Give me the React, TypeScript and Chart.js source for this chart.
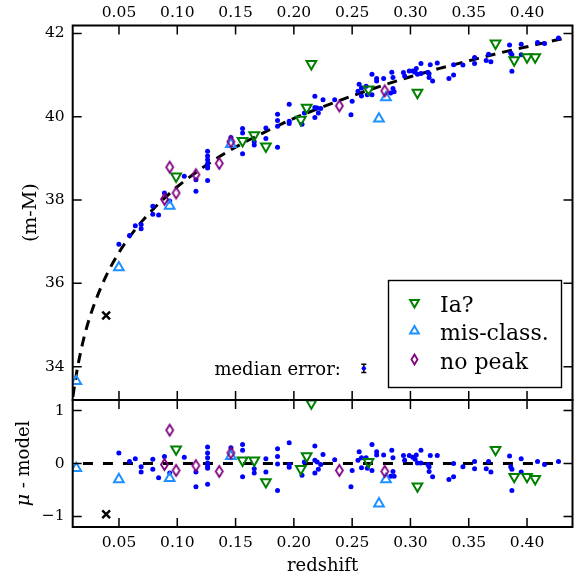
import React, { useEffect, useRef } from "react";
import { Chart, registerables } from "chart.js";

Chart.register(...registerables);

// ---------------- data ----------------
const xTicks = [0.05, 0.1, 0.15, 0.2, 0.25, 0.3, 0.35, 0.4];
const yTicksTop = [34, 36, 38, 40, 42];
const yTicksBottom = [-1, 0, 1];

const modelZ = [0.0105, 0.012, 0.015, 0.02, 0.025, 0.03, 0.04, 0.05, 0.06, 0.07, 0.08, 0.09, 0.1, 0.125, 0.15, 0.175, 0.2, 0.225, 0.25, 0.275, 0.3, 0.325, 0.35, 0.375, 0.4, 0.425, 0.43];
const modelMu = [33.28, 33.57, 34.06, 34.7, 35.19, 35.59, 36.24, 36.74, 37.15, 37.5, 37.8, 38.07, 38.32, 38.84, 39.27, 39.63, 39.96, 40.24, 40.5, 40.74, 40.96, 41.16, 41.34, 41.52, 41.68, 41.84, 41.87];

const zeroZ = [0.0105, 0.43];
const zeroRes = [0, 0];

const blueZ = [
  0.0499, 0.059, 0.064, 0.069, 0.069, 0.079, 0.079, 0.084, 0.089, 0.0935,
  0.106, 0.116, 0.116, 0.126, 0.126, 0.126, 0.126, 0.126, 0.126, 0.126,
  0.146, 0.156, 0.156, 0.156, 0.166, 0.166, 0.176, 0.176, 0.186, 0.186,
  0.186, 0.186, 0.196, 0.196, 0.196, 0.209, 0.207, 0.218, 0.218, 0.22,
  0.225, 0.223, 0.221, 0.218, 0.235, 0.25, 0.249, 0.256, 0.255, 0.258,
  0.262, 0.258, 0.263, 0.267, 0.271, 0.271, 0.267, 0.277, 0.284, 0.285,
  0.285, 0.283, 0.286, 0.294, 0.295, 0.299, 0.302, 0.305, 0.309, 0.304,
  0.306, 0.309, 0.315, 0.316, 0.316, 0.319, 0.317, 0.323, 0.333, 0.337,
  0.337, 0.345, 0.355, 0.355, 0.365, 0.367, 0.369, 0.385, 0.386, 0.387,
  0.387, 0.395, 0.395, 0.409, 0.415, 0.427,
];
const blueRes = [
  0.2, 0.04, 0.09, -0.06, -0.16, 0.08, -0.11, -0.27, 0.13, -0.18,
  0.12, -0.16, -0.44, 0.31, 0.2, 0.11, 0.01, -0.05, -0.09, -0.39,
  0.3, 0.36, 0.25, -0.25, -0.1, -0.18, 0.09, -0.16, 0.28, 0.13,
  -0.01, -0.51, 0.39, -0.02, -0.07, 0.03, -0.22, 0.33, 0.06, 0.03,
  0.17, -0.02, -0.11, -0.18, 0.07, -0.13, -0.44, 0.22, 0.06, 0.11,
  0.11, -0.08, -0.09, 0.36, 0.22, 0.16, -0.13, 0.16, 0.25, 0.11,
  -0.15, -0.24, -0.24, 0.15, 0.06, 0.15, 0.12, 0.16, 0.25, 0.08,
  0.01, 0.01, -0.02, -0.06, -0.15, -0.25, 0.15, 0.15, -0.3, -0.25,
  0.0, -0.06, 0.04, -0.1, -0.1, 0.04, -0.16, 0.14, -0.06, -0.11,
  -0.51, 0.09, -0.16, 0.04, -0.02, 0.04,
];
const blueMu = [
  36.94, 37.15, 37.38, 37.41, 37.31, 37.85, 37.66, 37.64, 38.17, 37.98,
  38.57, 38.49, 38.21, 39.17, 39.06, 38.97, 38.87, 38.81, 38.77, 38.47,
  39.5, 39.72, 39.61, 39.11, 39.4, 39.32, 39.73, 39.48, 40.06, 39.91,
  39.77, 39.27, 40.3, 39.89, 39.84, 40.09, 39.82, 40.49, 40.22, 40.21,
  40.41, 40.2, 40.09, 39.98, 40.41, 40.37, 40.05, 40.78, 40.61, 40.69,
  40.73, 40.5, 40.53, 41.02, 40.92, 40.86, 40.53, 40.92, 41.07, 40.94,
  40.68, 40.57, 40.6, 41.06, 40.98, 41.1, 41.1, 41.16, 41.28, 41.07,
  41.02, 41.04, 41.06, 41.03, 40.94, 40.86, 41.25, 41.29, 40.92, 41.0,
  41.25, 41.24, 41.42, 41.28, 41.35, 41.5, 41.32, 41.72, 41.53, 41.49,
  41.09, 41.74, 41.49, 41.78, 41.76, 41.89,
];

const iaZ = [0.099, 0.156, 0.166, 0.176, 0.206, 0.211, 0.215, 0.264, 0.306, 0.373, 0.389, 0.4, 0.407];
const iaRes = [0.27, 0.06, 0.06, -0.35, -0.1, 0.14, 1.14, 0.03, -0.43, 0.26, -0.25, -0.25, -0.29];
const iaMu = [38.57, 39.42, 39.56, 39.29, 39.93, 40.22, 41.27, 40.66, 40.58, 41.76, 41.36, 41.43, 41.43];

const misZ = [0.0134, 0.0499, 0.0935, 0.146, 0.273, 0.279];
const misRes = [-0.09, -0.3, -0.28, 0.14, -0.76, -0.3];
const misMu = [33.65, 36.38, 37.86, 39.34, 39.95, 40.46];

const npZ = [0.089, 0.0935, 0.099, 0.116, 0.136, 0.146, 0.239, 0.278];
const npRes = [-0.02, 0.63, -0.13, -0.04, -0.15, 0.2, -0.13, -0.15];
const npMu = [38.02, 38.79, 38.17, 38.61, 38.88, 39.4, 40.26, 40.62];

const crossZ = [0.039];
const crossMu = [35.23];
const crossRes = [-0.96];

const medZ = [0.26];
const medMu = [33.96];
const medErr = [0.1];

const legendLabels = ["Ia?", "mis-class.", "no peak"];

// ---------------- styles ----------------
const FONT = "'DejaVu Serif', 'Liberation Serif', serif";
const X_MIN = 0.0103;
const X_MAX = 0.439;
const BLUE = "#0000ff";
const GREEN = "#008000";
const DODGER = "#1e90ff";
const PURPLE = "#800080";
const TL = 9;

const pts = (xs: number[], ys: number[]) => xs.map((x, i) => ({ x, y: ys[i] }));

function makeDiamond(w: number, h: number, color: string, lw: number) {
  const c = document.createElement("canvas");
  c.width = Math.ceil(w + lw * 2 + 2);
  c.height = Math.ceil(h + lw * 2 + 2);
  const g = c.getContext("2d")!;
  g.strokeStyle = color;
  g.lineWidth = lw;
  g.lineJoin = "miter";
  const cx = c.width / 2, cy = c.height / 2;
  g.beginPath();
  g.moveTo(cx, cy - h / 2);
  g.lineTo(cx + w / 2, cy);
  g.lineTo(cx, cy + h / 2);
  g.lineTo(cx - w / 2, cy);
  g.closePath();
  g.stroke();
  return c;
}

const frameTicks = {
  id: "frameTicks",
  afterDatasetsDraw(chart: any) {
    const { ctx, chartArea: a, scales } = chart;
    const xs = scales.x, ys = scales.y;
    ctx.save();
    ctx.strokeStyle = "#000";
    ctx.lineWidth = 1.5;
    ctx.beginPath();
    for (const t of xs.ticks) {
      const p = xs.getPixelForValue(t.value);
      ctx.moveTo(p, a.top); ctx.lineTo(p, a.top + TL);
      ctx.moveTo(p, a.bottom); ctx.lineTo(p, a.bottom - TL);
    }
    for (const t of ys.ticks) {
      const p = ys.getPixelForValue(t.value);
      ctx.moveTo(a.left, p); ctx.lineTo(a.left + TL, p);
      ctx.moveTo(a.right, p); ctx.lineTo(a.right - TL, p);
    }
    ctx.stroke();
    ctx.lineWidth = 2;
    ctx.strokeRect(a.left, a.top, a.right - a.left, a.bottom - a.top);
    ctx.restore();
  },
};

function drawMarker(ctx: CanvasRenderingContext2D, kind: string, x: number, y: number) {
  ctx.save();
  ctx.lineWidth = 2;
  ctx.beginPath();
  if (kind === "down") {
    const r = 5;
    ctx.strokeStyle = GREEN;
    ctx.moveTo(x - r * 0.866, y - r / 2);
    ctx.lineTo(x + r * 0.866, y - r / 2);
    ctx.lineTo(x, y + r);
  } else if (kind === "up") {
    const r = 5;
    ctx.strokeStyle = DODGER;
    ctx.moveTo(x - r * 0.866, y + r / 2);
    ctx.lineTo(x + r * 0.866, y + r / 2);
    ctx.lineTo(x, y - r);
  } else {
    ctx.strokeStyle = PURPLE;
    ctx.lineWidth = 1.8;
    ctx.moveTo(x, y - 5);
    ctx.lineTo(x + 3, y);
    ctx.lineTo(x, y + 5);
    ctx.lineTo(x - 3, y);
  }
  ctx.closePath();
  ctx.stroke();
  ctx.restore();
}

const topExtras = {
  id: "topExtras",
  afterDraw(chart: any) {
    const { ctx, chartArea: a, scales } = chart;
    const xs = scales.x, ys = scales.y;
    ctx.save();
    ctx.fillStyle = "#000";
    // y title
    ctx.save();
    ctx.font = `19px ${FONT}`;
    ctx.translate(31, (a.top + a.bottom) / 2);
    ctx.rotate(-Math.PI / 2);
    ctx.textAlign = "center";
    ctx.textBaseline = "middle";
    ctx.fillText("(m-M)", 0, 0);
    ctx.restore();
    // median error bar
    const px = xs.getPixelForValue(medZ[0]);
    const py = ys.getPixelForValue(medMu[0]);
    const y1 = ys.getPixelForValue(medMu[0] + medErr[0]);
    const y2 = ys.getPixelForValue(medMu[0] - medErr[0]);
    ctx.strokeStyle = "#000";
    ctx.lineWidth = 1.5;
    ctx.beginPath();
    ctx.moveTo(px, y1); ctx.lineTo(px, y2);
    ctx.moveTo(px - 2.5, y1); ctx.lineTo(px + 2.5, y1);
    ctx.moveTo(px - 2.5, y2); ctx.lineTo(px + 2.5, y2);
    ctx.stroke();
    ctx.fillStyle = BLUE;
    ctx.beginPath();
    ctx.arc(px, py, 2.2, 0, Math.PI * 2);
    ctx.fill();
    ctx.fillStyle = "#000";
    ctx.font = `18px ${FONT}`;
    ctx.textAlign = "right";
    ctx.textBaseline = "alphabetic";
    ctx.fillText("median error:", px - 23, py + 7);
    // legend
    const L = 388.5, T = 280.5, W = 173, H = 107;
    ctx.fillStyle = "#fff";
    ctx.fillRect(L, T, W, H);
    ctx.strokeStyle = "#000";
    ctx.lineWidth = 1.4;
    ctx.strokeRect(L, T, W, H);
    const kinds = ["down", "up", "diamond"];
    ctx.font = `22px ${FONT}`;
    ctx.textAlign = "left";
    ctx.fillStyle = "#000";
    for (let i = 0; i < legendLabels.length; i++) {
      const base = T + 31 + i * 28.5;
      drawMarker(ctx, kinds[i], L + 26, base - 9);
      ctx.fillStyle = "#000";
      ctx.fillText(legendLabels[i], L + 51.5, base);
    }
    ctx.restore();
  },
};

const bottomExtras = {
  id: "bottomExtras",
  afterDraw(chart: any) {
    const { ctx, chartArea: a } = chart;
    ctx.save();
    ctx.fillStyle = "#000";
    // y title with italic mu
    ctx.save();
    ctx.translate(24, (a.top + a.bottom) / 2);
    ctx.rotate(-Math.PI / 2);
    ctx.textBaseline = "middle";
    ctx.textAlign = "left";
    ctx.font = `italic 19px ${FONT}`;
    const w1 = ctx.measureText("\u03bc").width;
    ctx.font = `18px ${FONT}`;
    const w2 = ctx.measureText(" - model").width;
    const start = -(w1 + w2) / 2;
    ctx.font = `italic 19px ${FONT}`;
    ctx.fillText("\u03bc", start, 0);
    ctx.font = `18px ${FONT}`;
    ctx.fillText(" - model", start + w1, 0);
    ctx.restore();
    // x title
    ctx.font = `18px ${FONT}`;
    ctx.textAlign = "center";
    ctx.textBaseline = "alphabetic";
    ctx.fillText("redshift", (a.left + a.right) / 2, chart.height - 5);
    ctx.restore();
  },
};

const tickFont = { family: FONT, size: 15.5 };

function zeroPad(s: any) {
  s.paddingTop = 0;
  s.paddingBottom = 0;
  s.paddingLeft = 0;
  s.paddingRight = 0;
}

function xScale(position: string, height: number, padding: number) {
  return {
    type: "linear",
    position,
    min: X_MIN,
    max: X_MAX,
    grid: { display: false, drawTicks: false },
    border: { display: false },
    afterBuildTicks: (s: any) => { s.ticks = xTicks.map((v) => ({ value: v })); },
    afterFit: (s: any) => { s.height = height; zeroPad(s); },
    ticks: {
      font: tickFont,
      color: "#000",
      padding,
      autoSkip: false,
      maxRotation: 0,
      callback: (v: any) => Number(v).toFixed(2),
    },
  };
}

function yScale(min: number, max: number, ticks: number[]) {
  return {
    type: "linear",
    position: "left",
    min,
    max,
    grid: { display: false, drawTicks: false },
    border: { display: false },
    afterBuildTicks: (s: any) => { s.ticks = ticks.map((v) => ({ value: v })); },
    afterFit: (s: any) => { s.width = 72.7; zeroPad(s); },
    ticks: {
      font: tickFont,
      color: "#000",
      padding: 8,
      autoSkip: false,
      callback: (v: any) => (Number(v) < 0 ? "\u2212" + Math.abs(Number(v)) : String(v)),
    },
  };
}

function markerSets(ys: { blue: number[]; ia: number[]; mis: number[]; np: number[]; cross: number[] }, diamond: HTMLCanvasElement) {
  return [
    {
      label: "no peak", data: pts(npZ, ys.np), order: 1, clip: 0,
      pointStyle: diamond, pointRadius: 6, borderColor: PURPLE, backgroundColor: "transparent",
    },
    {
      label: "mis-class.", data: pts(misZ, ys.mis), order: 2, clip: 0,
      pointStyle: "triangle", pointRadius: 5.6, pointBorderWidth: 2,
      borderColor: DODGER, backgroundColor: "rgba(0,0,0,0)",
    },
    {
      label: "Ia?", data: pts(iaZ, ys.ia), order: 3, clip: 0,
      pointStyle: "triangle", pointRotation: 180, pointRadius: 5.6, pointBorderWidth: 2,
      borderColor: GREEN, backgroundColor: "rgba(0,0,0,0)",
    },
    {
      label: "cross", data: pts(crossZ, ys.cross), order: 4, clip: 0,
      pointStyle: "crossRot", pointRadius: 5.5, pointBorderWidth: 2.4, borderColor: "#000",
    },
    {
      label: "SNe", data: pts(blueZ, ys.blue), order: 5, clip: 0,
      pointStyle: "circle", pointRadius: 2.5, pointBorderWidth: 0, backgroundColor: BLUE, borderColor: BLUE,
    },
  ];
}

export default function App() {
  const topRef = useRef<HTMLCanvasElement>(null);
  const botRef = useRef<HTMLCanvasElement>(null);

  useEffect(() => {
    const diamond = makeDiamond(7, 11, PURPLE, 1.8);
    const common = {
      responsive: false,
      animation: false,
      devicePixelRatio: 1,
      events: [],
      plugins: { legend: { display: false }, tooltip: { enabled: false }, title: { display: false } },
    };
    const top = new Chart(topRef.current!, {
      type: "scatter",
      data: {
        datasets: [
          {
            label: "model", data: pts(modelZ, modelMu), showLine: true, order: 10, clip: 0,
            pointRadius: 0, borderColor: "#000", borderWidth: 3, borderDash: [10, 7],
            cubicInterpolationMode: "monotone", fill: false,
          },
          ...markerSets({ blue: blueMu, ia: iaMu, mis: misMu, np: npMu, cross: crossMu }, diamond),
        ] as any,
      },
      options: {
        ...common,
        layout: { autoPadding: false, padding: { left: 0, top: 0, right: 1.5, bottom: 2 } },
        scales: {
          x: xScale("top", 25.5, 3),
          y: yScale(33.2, 42.19, yTicksTop),
        },
      } as any,
      plugins: [frameTicks, topExtras],
    });
    const bot = new Chart(botRef.current!, {
      type: "scatter",
      data: {
        datasets: [
          {
            label: "zero", data: pts(zeroZ, zeroRes), showLine: true, order: 10, clip: 0,
            pointRadius: 0, borderColor: "#000", borderWidth: 3, borderDash: [10, 10], borderDashOffset: 10, fill: false,
          },
          ...markerSets({ blue: blueRes, ia: iaRes, mis: misRes, np: npRes, cross: crossRes }, diamond),
        ] as any,
      },
      options: {
        ...common,
        layout: { autoPadding: false, padding: { left: 0, top: 2, right: 1.5, bottom: 0 } },
        scales: {
          x: xScale("bottom", 49, 6.5),
          y: yScale(-1.2, 1.2, yTicksBottom),
        },
      } as any,
      plugins: [frameTicks, bottomExtras],
    });
    return () => {
      top.destroy();
      bot.destroy();
    };
  }, []);

  return (
    <div style={{ position: "absolute", left: 0, top: 0, width: 574, height: 576, background: "#fff" }}>
      <canvas ref={topRef} width={574} height={402} style={{ position: "absolute", left: 0, top: 0, width: 574, height: 402 }} />
      <canvas ref={botRef} width={574} height={178} style={{ position: "absolute", left: 0, top: 398, width: 574, height: 178 }} />
    </div>
  );
}
